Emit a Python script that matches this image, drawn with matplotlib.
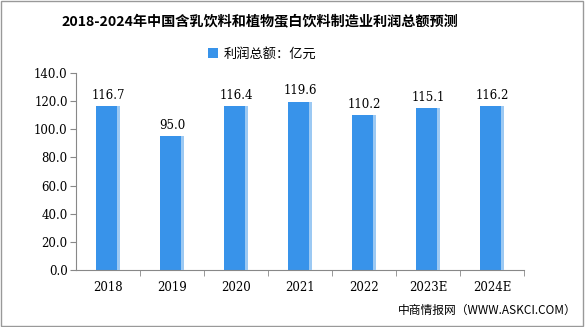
import matplotlib.pyplot as plt
from matplotlib.patches import Rectangle

plt.rcParams['font.family'] = ['Noto Sans CJK SC', 'DejaVu Sans']

years = ['2018', '2019', '2020', '2021', '2022', '2023E', '2024E']
profit = [116.7, 95.0, 116.4, 119.6, 110.2, 115.1, 116.2]
yticks = [0, 20, 40, 60, 80, 100, 120, 140]

fig = plt.figure(figsize=(5.85, 3.27), dpi=100)
ax = fig.add_axes([76 / 585, 57 / 327, 448 / 585, 197 / 327])

x = list(range(len(years)))
ax.bar(x, profit, width=0.375, color='#3893ea', label='利润总额：亿元', zorder=2)
# thin lighter strip on the right side of each bar
ax.bar([i + 0.165 for i in x], profit, width=0.035, color='#9cc9f3', zorder=3)

for i, v in enumerate(profit):
    ax.text(i, v + 3, f'{v:.1f}', ha='center', va='bottom', fontsize=8.5,
            family=['DejaVu Serif'])

ax.set_xlim(-0.5, len(years) - 0.5)
ax.set_ylim(0, 140)
ax.set_yticks(yticks)
ax.set_yticklabels([f'{t:.1f}' for t in yticks], family=['DejaVu Serif'], fontsize=8.5)
ax.set_xticks(x)
ax.set_xticklabels(years, family=['DejaVu Serif'], fontsize=8.5)
ax.set_xticks([i + 0.5 for i in x], minor=True)
ax.tick_params(axis='x', which='major', length=0, pad=8)
ax.tick_params(axis='x', which='minor', length=4, color='#888888')
ax.tick_params(axis='y', length=4, color='#888888', pad=2)
for s in ['top', 'right']:
    ax.spines[s].set_visible(False)
ax.spines['left'].set_color('#888888')
ax.spines['bottom'].set_color('#888888')

handles, labels = ax.get_legend_handles_labels()
fig.legend(handles[:1], labels[:1], loc='center', bbox_to_anchor=(262 / 585, 1 - 54 / 327),
           frameon=False, fontsize=9.5, handlelength=0.8, handleheight=0.8,
           handletextpad=0.4)

fig.text(260 / 585, 1 - 21 / 327, '2018-2024年中国含乳饮料和植物蛋白饮料制造业利润总额预测',
         ha='center', va='center', fontsize=10.2, fontweight='bold')
fig.text(0.985, 1 - 310 / 327, '中商情报网（WWW.ASKCI.COM）', ha='right', va='center',
         fontsize=8.5)

fig.patches.append(Rectangle((0.002, 0.003), 0.995, 0.994, transform=fig.transFigure,
                             fill=False, edgecolor='#999999', linewidth=1))

fig.savefig('out.png', dpi=100)
